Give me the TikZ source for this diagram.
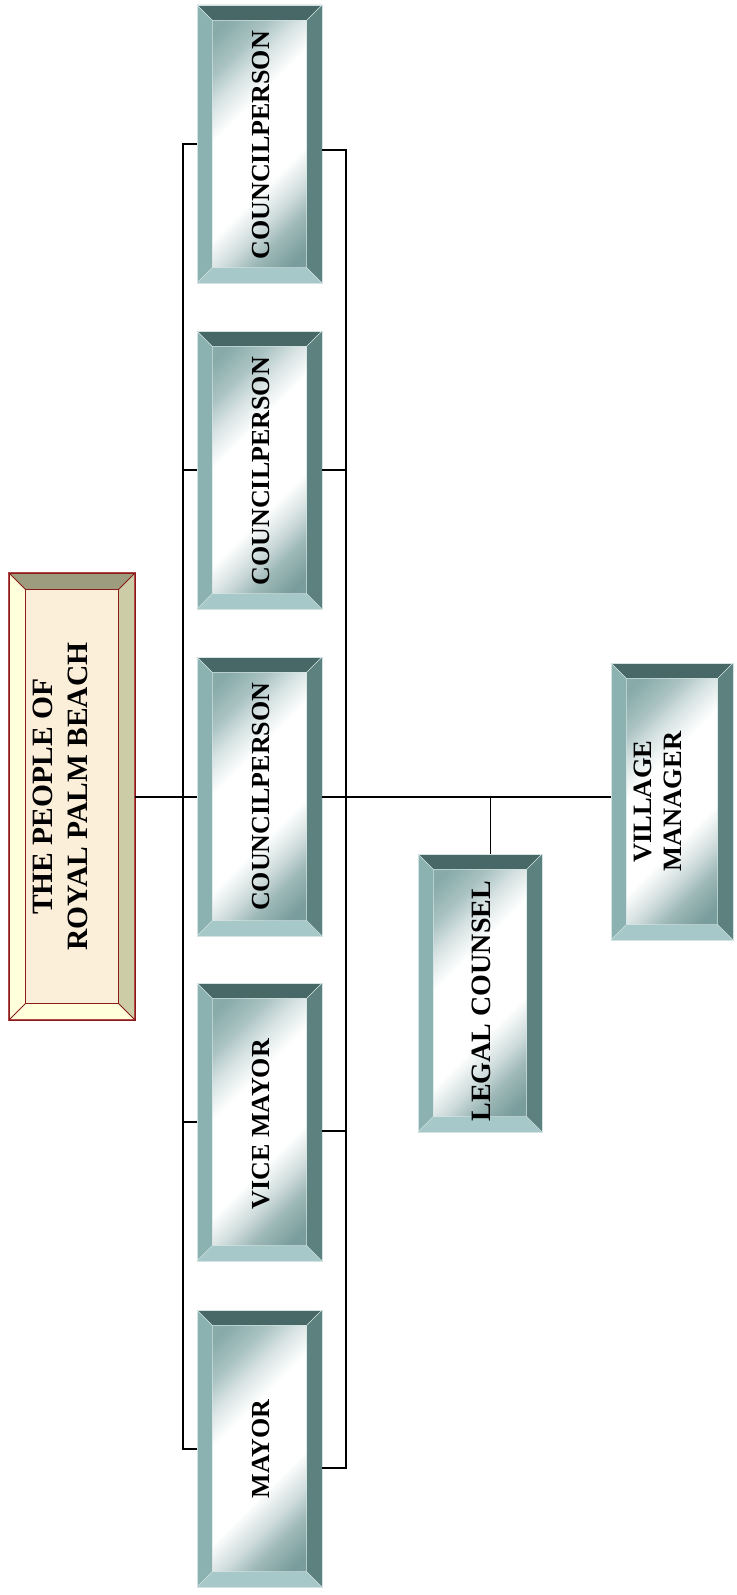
\documentclass[tikz,border=0pt]{standalone}
\usepackage{fontspec}
\setmainfont{Liberation Serif}
\usetikzlibrary{calc}
\definecolor{tTop}{HTML}{476866}
\definecolor{tLeft}{HTML}{8BB2B1}
\definecolor{tRight}{HTML}{5C817F}
\definecolor{tBottom}{HTML}{A7C8C8}
\definecolor{tFaceA}{HTML}{88ABAA}
\definecolor{tFaceB}{HTML}{789D9C}
\colorlet{tFaceA1}{tFaceA!72!white}
\colorlet{tFaceA2}{tFaceA!36!white}
\colorlet{tFaceB1}{tFaceB!72!white}
\colorlet{tFaceB2}{tFaceB!36!white}
\definecolor{tEdge}{HTML}{D3E3E3}
\definecolor{pTop}{HTML}{9D9C7E}
\definecolor{pLeft}{HTML}{FFFFDC}
\definecolor{pRight}{HTML}{CCCCA6}
\definecolor{pBottom}{HTML}{FFFFDC}
\definecolor{pFace}{HTML}{FBEFDA}
\definecolor{pEdge}{HTML}{8B1A1A}
\definecolor{pOuter}{HTML}{B04848}
\pgfdeclarehorizontalshading{facesh}{100bp}{%
  color(0bp)=(tFaceA); color(18bp)=(tFaceA); color(26bp)=(tFaceA1);
  color(32bp)=(tFaceA2); color(40bp)=(white); color(60bp)=(white);
  color(68bp)=(tFaceB2); color(74bp)=(tFaceB1); color(82bp)=(tFaceB);
  color(100bp)=(tFaceB)}
\tikzset{
  conn/.style={draw=black, line width=1.8pt},
  boxnode/.style={inner sep=0pt, draw=none, rectangle},
  lbl/.style={rotate=90, inner sep=0pt, align=center, text=black},
}
% #1 name, #2 left x, #3 top y, #4 width, #5 height, #6 bevel
\newcommand\tealbox[6]{%
  \begin{scope}[shift={(#2,#3)}]
    \fill[tTop] (0,0) -- (#4,0) -- (#4-#6,#6) -- (#6,#6) -- cycle;
    \fill[tBottom] (0,#5) -- (#4,#5) -- (#4-#6,#5-#6) -- (#6,#5-#6) -- cycle;
    \fill[tLeft] (0,0) -- (#6,#6) -- (#6,#5-#6) -- (0,#5) -- cycle;
    \fill[tRight] (#4,0) -- (#4-#6,#6) -- (#4-#6,#5-#6) -- (#4,#5) -- cycle;
    \shade[shading=facesh, shading angle=-45]
      (#6,#6) rectangle (#4-#6,#5-#6);
    \draw[tEdge, line width=0.6pt] (0,0) rectangle (#4,#5);
    \draw[tEdge, line width=0.5pt] (#6,#6) rectangle (#4-#6,#5-#6)
      (0,0) -- (#6,#6) (#4,0) -- (#4-#6,#6) (0,#5) -- (#6,#5-#6) (#4,#5) -- (#4-#6,#5-#6);
    \node[boxnode, anchor=north west, minimum width=#4pt, minimum height=#5pt] (#1) at (0,0) {};
  \end{scope}}
\newcommand\peoplebox[6]{%
  \begin{scope}[shift={(#2,#3)}]
    \fill[pTop] (0,0) -- (#4,0) -- (#4-#6,#6) -- (#6,#6) -- cycle;
    \fill[pBottom] (0,#5) -- (#4,#5) -- (#4-#6,#5-#6) -- (#6,#5-#6) -- cycle;
    \fill[pLeft] (0,0) -- (#6,#6) -- (#6,#5-#6) -- (0,#5) -- cycle;
    \fill[pRight] (#4,0) -- (#4-#6,#6) -- (#4-#6,#5-#6) -- (#4,#5) -- cycle;
    \fill[pFace] (#6,#6) rectangle (#4-#6,#5-#6);
    \draw[pOuter, line width=1.4pt] (0,0) rectangle (#4,#5);
    \draw[pEdge, line width=0.7pt] (0,0) rectangle (#4,#5);
    \draw[pEdge, line width=0.8pt] (#6,#6) rectangle (#4-#6,#5-#6)
      (0,0) -- (#6,#6) (#4,0) -- (#4-#6,#6) (0,#5) -- (#6,#5-#6) (#4,#5) -- (#4-#6,#5-#6);
    \node[boxnode, anchor=north west, minimum width=#4pt, minimum height=#5pt] (#1) at (0,0) {};
  \end{scope}}
\begin{document}
\begin{tikzpicture}[x=1pt, y=-1pt]
\fill[white] (0,0) rectangle (736,1595);
\useasboundingbox (0,0) rectangle (736,1595);
% boxes
\peoplebox{people}{9}{573}{126}{447}{16.5}
\tealbox{c1}{197}{5}{125}{278}{15.5}
\tealbox{c2}{197}{331}{125}{278}{15.5}
\tealbox{c3}{197}{657}{125}{279}{15.5}
\tealbox{vicemayor}{197}{983}{125}{278}{15.5}
\tealbox{mayor}{197}{1310}{125}{277}{15.5}
\tealbox{legal}{418}{854}{124}{278}{15.5}
\tealbox{manager}{611}{663}{122}{277}{15.5}
% labels
\node[lbl, font=\bfseries\fontsize{29.5}{35}\selectfont] (people-t) at ($(people.center)+(-11.5,0)$) {THE PEOPLE OF\\ROYAL PALM BEACH};
\node[lbl, font=\bfseries\fontsize{26}{30}\selectfont] (c1-t) at ($(c1.center)+(1.5,1)$) {COUNCILPERSON};
\node[lbl, font=\bfseries\fontsize{26}{30}\selectfont] (c2-t) at ($(c2.center)+(1.5,1)$) {COUNCILPERSON};
\node[lbl, font=\bfseries\fontsize{26}{30}\selectfont] (c3-t) at ($(c3.center)+(1.5,0)$) {COUNCILPERSON};
\node[lbl, font=\bfseries\fontsize{26}{30}\selectfont] (vicemayor-t) at ($(vicemayor.center)+(1.5,2)$) {VICE MAYOR};
\node[lbl, font=\bfseries\fontsize{26}{30}\selectfont] (mayor-t) at ($(mayor.center)+(1.5,0)$) {MAYOR};
\node[lbl, font=\bfseries\fontsize{28}{32}\selectfont] (legal-t) at ($(legal.center)+(1,8)$) {LEGAL COUNSEL};
\node[lbl, font=\bfseries\fontsize{26.5}{30}\selectfont] (manager-t) at ($(manager.center)+(-14.5,0)$) {VILLAGE\\MANAGER};
% connectors
\coordinate (busL) at (183,0);
\coordinate (busR) at (346,0);
\draw[conn] (people.east) -- (c3.west);
\draw[conn] (c1.west) -- (c1.west -| busL) -- (mayor.west -| busL) -- (mayor.west);
\draw[conn] (c2.west) -- (c2.west -| busL);
\draw[conn] (vicemayor.west) -- (vicemayor.west -| busL);
\coordinate (r1) at ($(c1.east)+(0,6)$);
\coordinate (r4) at ($(vicemayor.east)+(0,9)$);
\coordinate (r5) at ($(mayor.east)+(0,19.5)$);
\draw[conn] (r1) -- (r1 -| busR) -- (r5 -| busR) -- (r5);
\draw[conn] (c2.east) -- (c2.east -| busR);
\draw[conn] (r4) -- (r4 -| busR);
\draw[conn] (c3.east) -- (c3.east -| manager.west);
\coordinate (lj) at ($(c3.east)+(168,0)$);
\draw[conn] (lj) -- (lj |- legal.north);
\end{tikzpicture}
\end{document}
